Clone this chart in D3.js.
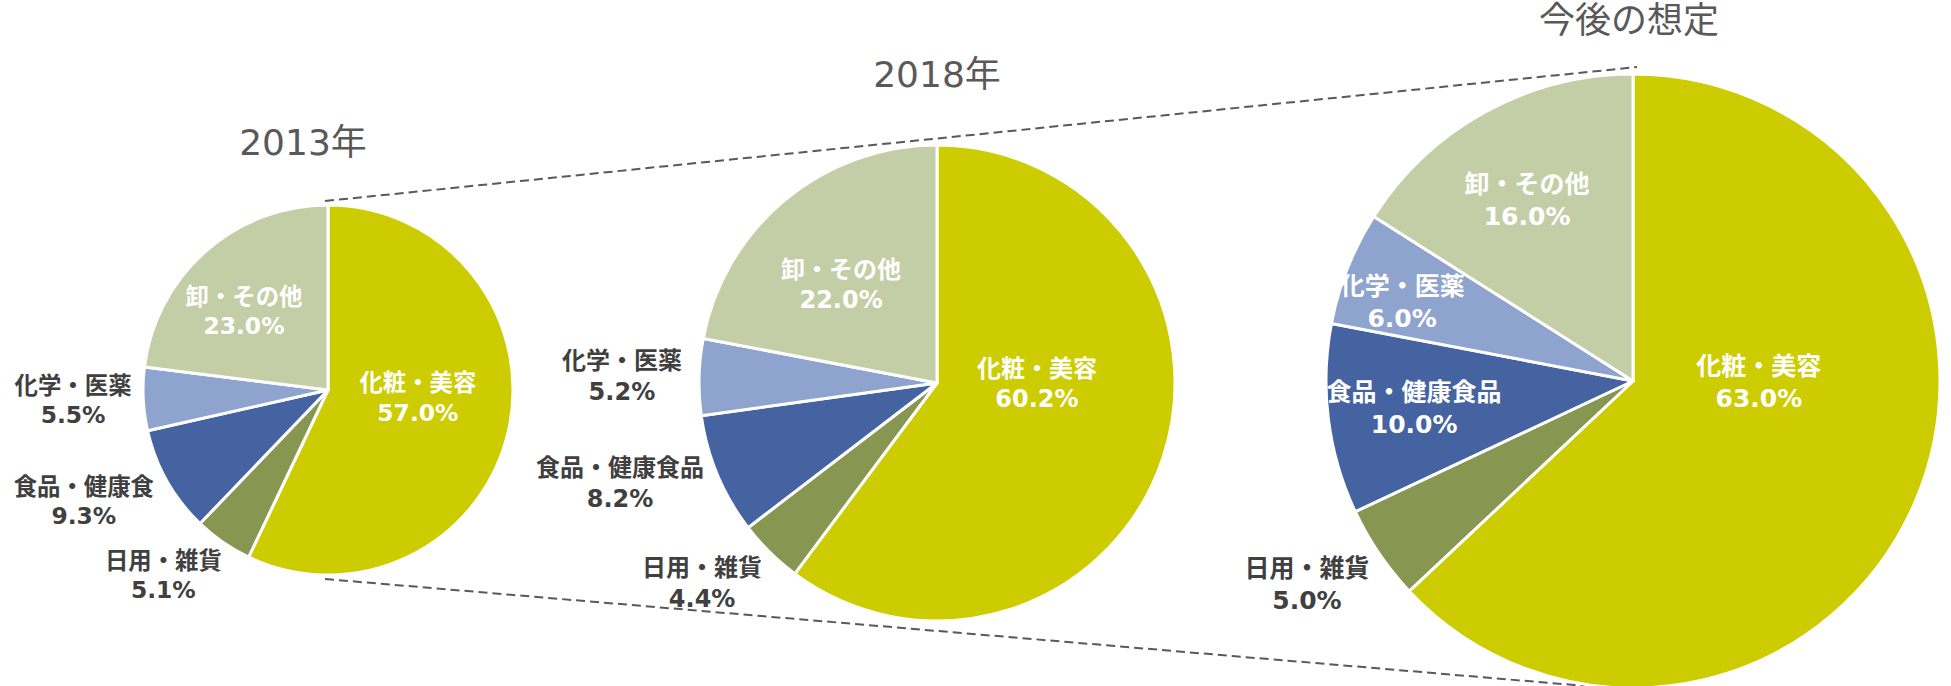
<!DOCTYPE html>
<html>
<head>
<meta charset="utf-8">
<script src="https://cdn.jsdelivr.net/npm/d3@7"></script>
<style>
  body { margin: 0; background: #fff; }
  svg { display: block; }
</style>
</head>
<body>
<div id="chart"></div>
<script>
// 3つの円グラフ (2013年 / 2018年 / 今後の想定)
const categories = ["化粧・美容", "日用・雑貨", "食品・健康食品", "化学・医薬", "卸・その他"];
const titles = ["2013年", "2018年", "今後の想定"];
const values2013 = [57.0, 5.1, 9.3, 5.5, 23.0];
const values2018 = [60.2, 4.4, 8.2, 5.2, 22.0];
const valuesFuture = [63.0, 5.0, 10.0, 6.0, 16.0];
// 2013年だけラベルが「食品・健康食」で切れている
const labels2013 = ["化粧・美容", "日用・雑貨", "食品・健康食", "化学・医薬", "卸・その他"];
const colors = ["#cccc00", "#879752", "#4563a0", "#8ea4ce", "#c4cea6"];

const width = 1951, height = 686,
    fontFamily = "'DejaVu Sans', 'Noto Sans CJK JP', sans-serif";

// 配置 (中心, 半径, タイトル位置, ラベルの文字サイズ)
const pies = [
    { title: titles[0], values: values2013, labels: labels2013, cx: 328, cy: 390, r: 185, tx: 303, ty: 155, fs: 23.4,
      inside: [true, false, false, false, true],
      // ラベル中心 (半径に対する比率)
      pos: [[0.486, 0.04], [-0.89, 1.0], [-1.32, 0.6], [-1.378, 0.054], [-0.454, -0.427]] },
    { title: titles[1], values: values2018, labels: categories, cx: 937, cy: 383, r: 238, tx: 937, ty: 87, fs: 24,
      inside: [true, false, false, false, true],
      pos: [[0.42, 0.0], [-0.987, 0.84], [-1.332, 0.42], [-1.324, -0.03], [-0.403, -0.416]] },
    { title: titles[2], values: valuesFuture, labels: categories, cx: 1633, cy: 381, r: 307, tx: 1629, ty: 33, fs: 25,
      inside: [true, false, true, true, true],
      pos: [[0.41, 0.003], [-1.062, 0.661], [-0.713, 0.088], [-0.752, -0.257], [-0.345, -0.59]] }
];

const svg = d3.select("#chart").append("svg")
    .attr("width", width)
    .attr("height", height)
    .style("background", "#fff");

const pie = d3.pie().sort(null).value(d => d);

// 破線 (2013年 → 今後の想定)
const p0 = pies[0], p2 = pies[2];
svg.append("line")
    .attr("x1", p0.cx - 3).attr("y1", p0.cy - p0.r - 4)
    .attr("x2", p2.cx + 4).attr("y2", p2.cy - p2.r - 7)
    .attr("stroke", "#595959").attr("stroke-width", 2).attr("stroke-dasharray", "9,5");
svg.append("line")
    .attr("x1", p0.cx - 3).attr("y1", p0.cy + p0.r + 4)
    .attr("x2", p2.cx).attr("y2", p2.cy + p2.r + 2)
    .attr("stroke", "#595959").attr("stroke-width", 2).attr("stroke-dasharray", "9,5");

pies.forEach(p => {
    const g = svg.append("g").attr("transform", "translate(" + p.cx + "," + p.cy + ")");
    const arc = d3.arc().innerRadius(0).outerRadius(p.r);

    g.selectAll("path")
        .data(pie(p.values))
        .enter().append("path")
        .attr("d", arc)
        .attr("fill", (d, i) => colors[i])
        .attr("stroke", "#fff")
        .attr("stroke-width", 3)
        .attr("stroke-linejoin", "round");

    const lab = g.selectAll("text.lab")
        .data(p.values)
        .enter().append("text")
        .attr("class", "lab")
        .attr("text-anchor", "middle")
        .style("font-family", fontFamily)
        .style("font-weight", "bold")
        .style("font-size", p.fs + "px")
        .attr("fill", (d, i) => p.inside[i] ? "#ffffff" : "#404040");

    lab.append("tspan")
        .attr("x", (d, i) => p.pos[i][0] * p.r)
        .attr("y", (d, i) => p.pos[i][1] * p.r - 0.27 * p.fs)
        .text((d, i) => p.labels[i]);
    lab.append("tspan")
        .attr("x", (d, i) => p.pos[i][0] * p.r)
        .attr("y", (d, i) => p.pos[i][1] * p.r + 1.0 * p.fs)
        .text(d => d.toFixed(1) + "%");

    svg.append("text")
        .attr("x", p.tx)
        .attr("y", p.ty)
        .attr("text-anchor", "middle")
        .style("font-family", fontFamily)
        .style("font-size", "36px")
        .attr("fill", "#595959")
        .text(p.title);
});
</script>
</body>
</html>
